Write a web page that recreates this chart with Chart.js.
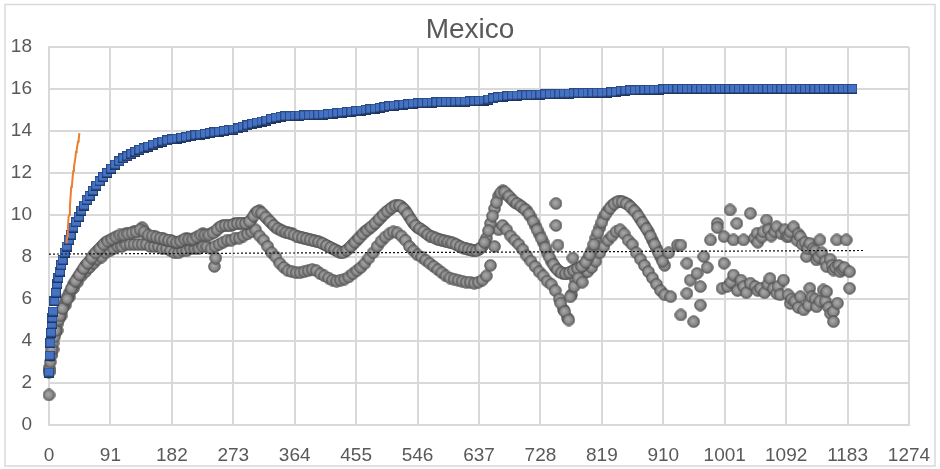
<!DOCTYPE html>
<html>
<head>
<meta charset="utf-8">
<script src="https://cdn.jsdelivr.net/npm/chart.js@4.4.1/dist/chart.umd.min.js"></script>
<style>
html, body { margin: 0; padding: 0; background: #ffffff; }
canvas { display: block; }
</style>
</head>
<body>
<canvas id="chart" width="940" height="469"></canvas>
<script>
// Axis tick labels
const xTickLabels = ['0','91','182','273','364','455','546','637','728','819','910','1001','1092','1183','1274'];
const yTickLabels = ['0','2','4','6','8','10','12','14','16','18'];

// Cumulative series (blue squares)
const cumulativeDays = [
  0,1,2,3,4,5,6,8,10,12,
  14,16,18,20,23,26,29,32,36,40,
  44,48,52,56,60,65,70,75,80,86,
  92,98,104,110,116,122,128,134,140,147,
  154,161,168,175,182,189,196,203,210,217,
  224,231,238,245,252,259,266,273,280,287,
  294,301,308,315,322,329,336,343,350,357,
  364,371,378,385,392,399,406,413,420,427,
  434,441,448,455,462,469,476,483,490,497,
  504,511,518,525,532,539,546,553,560,567,
  574,581,588,595,602,609,616,623,630,637,
  644,651,658,665,672,679,686,693,700,707,
  714,721,728,735,742,749,756,763,770,777,
  784,791,798,805,812,819,826,833,840,847,
  854,861,868,875,882,889,896,903,910,917,
  924,931,938,945,952,959,966,973,980,987,
  994,1001,1008,1015,1022,1029,1036,1043,1050,1057,
  1064,1071,1078,1085,1092,1099,1106,1113,1120,1127,
  1134,1141,1148,1155,1162,1169,1176,1183,1190
];
const cumulativeValues = [
  2.5,3.3,3.9,4.4,4.8,5.1,5.4,5.9,6.3,6.7,
  7.0,7.3,7.6,7.85,8.2,8.5,8.8,9.05,9.4,9.65,
  9.9,10.2,10.45,10.7,10.9,11.15,11.4,11.6,11.8,12.0,
  12.2,12.4,12.55,12.7,12.8,12.9,13.0,13.1,13.17,13.25,
  13.35,13.42,13.5,13.55,13.6,13.63,13.67,13.7,13.75,13.8,
  13.83,13.86,13.9,13.93,13.96,14.0,14.03,14.07,14.12,14.2,
  14.27,14.33,14.4,14.45,14.5,14.57,14.63,14.67,14.7,14.7,
  14.72,14.73,14.74,14.75,14.76,14.77,14.78,14.8,14.82,14.85,
  14.88,14.9,14.92,14.95,14.97,15.0,15.03,15.06,15.1,15.13,
  15.17,15.2,15.22,15.25,15.27,15.3,15.32,15.33,15.34,15.35,
  15.36,15.37,15.38,15.38,15.39,15.4,15.4,15.41,15.42,15.43,
  15.45,15.5,15.55,15.6,15.63,15.66,15.68,15.69,15.7,15.7,
  15.71,15.72,15.73,15.74,15.75,15.76,15.77,15.78,15.78,15.79,
  15.8,15.8,15.81,15.81,15.82,15.82,15.83,15.84,15.85,15.9,
  15.92,15.93,15.94,15.95,15.95,15.96,15.96,15.97,15.98,16.0,
  16.0,16.0,16.0,16.0,16.0,16.0,16.0,16.0,16.0,16.0,
  16.0,16.0,16.0,16.0,16.0,16.0,16.0,16.0,16.0,16.0,
  16.0,16.0,16.0,16.0,16.0,16.0,16.0,16.0,16.0,16.0,
  16.0,16.0,16.0,16.0,16.0,16.0,16.0,16.0,16.0
];

// Daily series (grey circles): weekday branch (upper) and weekend branch (lower)
const dailyDays = [
  0,6,12,18,24,30,36,42,48,54,
  60,66,72,78,84,90,96,102,108,114,
  120,126,132,138,144,150,156,162,168,174,
  180,186,192,198,204,210,216,222,228,234,
  240,246,252,258,264,270,276,282,288,294,
  300,306,312,318,324,330,336,342,348,354,
  360,366,372,378,384,390,396,402,408,414,
  420,426,432,438,444,450,456,462,468,474,
  480,486,492,498,504,510,516,522,528,534,
  540,546,552,558,564,570,576,582,588,594,
  600,606,612,618,624,630,636,642,648,654,
  660,666,672,678,684,690,696,702,708,714,
  720,726,732,738,744,750,756,762,768,774,
  780,786,792,798,804,810,816,822,828,834,
  840,846,852,858,864,870,876,882,888,894,
  900,906,912
];
const dailyUpper = [
  2.7,3.9,4.8,5.4,5.9,6.3,6.7,7.0,7.3,7.6,
  7.8,8.1,8.3,8.5,8.7,8.8,8.9,9.0,9.0,9.1,
  9.1,9.2,9.2,9.4,9.1,9.0,9.0,8.9,8.9,8.8,
  8.8,8.7,8.7,8.8,8.9,8.8,8.9,9.0,9.1,9.0,
  9.1,9.2,9.4,9.5,9.5,9.5,9.6,9.6,9.6,9.6,
  9.8,10.1,10.2,10.0,9.8,9.6,9.4,9.3,9.2,9.15,
  9.1,9.0,8.95,8.9,8.85,8.8,8.75,8.7,8.6,8.5,
  8.4,8.3,8.2,8.25,8.4,8.6,8.8,9.0,9.2,9.35,
  9.5,9.7,9.9,10.1,10.25,10.4,10.45,10.4,10.2,9.9,
  9.6,9.4,9.3,9.15,9.0,8.95,8.85,8.8,8.75,8.7,
  8.65,8.55,8.45,8.4,8.35,8.3,8.35,8.5,8.9,9.6,
  10.3,10.9,11.15,11.0,10.8,10.6,10.5,10.35,10.2,9.9,
  9.5,9.1,8.7,8.2,7.8,7.5,7.3,7.2,7.2,7.3,
  7.4,7.5,7.6,7.9,8.3,8.9,9.4,9.9,10.2,10.45,
  10.6,10.65,10.6,10.5,10.3,10.1,9.8,9.5,9.2,8.8,
  8.4,8.0,7.6
];
// Upper branch on the days in between (3, 9, 15, ...)
const dailyMidDays = [
  3,9,15,21,27,33,39,45,51,57,
  63,69,75,81,87,93,99,105,111,117,
  123,129,135,141,147,153,159,165,171,177,
  183,189,195,201,207,213,219,225,231,237,
  243,249,255,261,267,273,279,285,291,297,
  303,309,315,321,327,333,339,345,351,357,
  363,369,375,381,387,393,399,405,411,417,
  423,429,435,441,447,453,459,465,471,477,
  483,489,495,501,507,513,519,525,531,537,
  543,549,555,561,567,573,579,585,591,597,
  603,609,615,621,627,633,639,645,651,657,
  663,669,675,681,687,693,699,705,711,717,
  723,729,735,741,747,753,759,765,771,777,
  783,789,795,801,807,813,819,825,831,837,
  843,849,855,861,867,873,879,885,891,897,
  903,909
];
const dailyUpperMid = [
  3.35,4.4,5.1,5.65,6.1,6.5,6.85,7.15,7.45,7.7,
  7.95,8.2,8.4,8.6,8.75,8.85,8.95,9.05,9.05,9.1,
  9.15,9.2,9.3,9.2,9.05,9.0,8.95,8.9,8.85,8.8,
  8.75,8.7,8.75,8.85,8.85,8.85,8.95,9.05,9.05,9.05,
  9.15,9.3,9.45,9.5,9.5,9.55,9.6,9.6,9.6,9.7,
  9.95,10.15,10.1,9.9,9.7,9.5,9.35,9.25,9.17,9.12,
  9.05,8.97,8.92,8.87,8.82,8.77,8.72,8.65,8.55,8.45,
  8.35,8.25,8.2,8.32,8.5,8.7,8.9,9.1,9.27,9.42,
  9.6,9.8,10.0,10.17,10.32,10.43,10.45,10.3,10.05,9.75,
  9.5,9.35,9.22,9.07,8.97,8.9,8.82,8.77,8.72,8.67,
  8.6,8.5,8.42,8.37,8.32,8.3,8.42,8.7,9.25,9.95,
  10.6,11.05,11.1,10.9,10.7,10.55,10.42,10.27,10.05,9.7,
  9.3,8.9,8.45,8.0,7.65,7.4,7.25,7.2,7.25,7.35,
  7.45,7.55,7.75,8.1,8.6,9.15,9.65,10.05,10.32,10.52,
  10.63,10.63,10.55,10.4,10.2,9.95,9.65,9.35,9.0,8.6,
  8.2,7.8
];
const dailyLower = [
  2.5,3.6,4.5,5.2,5.7,6.1,6.5,6.8,7.1,7.3,
  7.5,7.7,7.9,8.0,8.2,8.3,8.4,8.5,8.5,8.6,
  8.6,8.6,8.6,8.6,8.6,8.5,8.5,8.5,8.4,8.4,
  8.3,8.2,8.2,8.3,8.3,8.4,8.4,8.4,8.5,8.5,
  8.4,8.5,8.6,8.7,8.8,8.8,8.9,8.9,9.0,9.1,
  9.2,9.3,9.0,8.8,8.5,8.2,8.0,7.7,7.5,7.35,
  7.3,7.25,7.25,7.3,7.35,7.4,7.35,7.2,7.1,7.0,
  6.9,6.85,6.9,6.95,7.05,7.2,7.35,7.5,7.7,7.95,
  8.2,8.5,8.75,8.95,9.1,9.2,9.15,9.0,8.8,8.5,
  8.3,8.1,8.0,7.85,7.7,7.55,7.4,7.25,7.1,7.0,
  6.95,6.9,6.85,6.8,6.8,6.75,6.8,6.9,7.1,7.6,
  8.5,9.3,9.5,9.3,9.0,8.8,8.6,8.35,8.05,7.8,
  7.55,7.3,7.1,6.85,6.7,6.4,6.0,5.5,5.1,6.2,
  6.9,7.1,7.2,7.3,7.5,7.8,8.2,8.5,8.8,9.0,
  9.2,9.3,9.1,8.8,8.6,8.2,7.9,7.6,7.3,7.0,
  6.7,6.4,6.2
];
// Daily values off the two branches: early ramp, isolated days and the scattered tail
const dailyOther = [
  [0,1.43],[1,2.6],[2,3.0],[3,3.3],[4,3.6],[8,4.2],[10,4.5],[14,5.0],[16,5.2],[20,5.55],[27,6.0],
  [245,7.55],[247,7.95],
  [751,10.55],[751,9.5],[754,8.57],[776,7.95],[758,5.8],[764,5.4],[770,5.0],[772,6.1],[778,6.6],[784,7.0],[790,6.8],
  [918,8.2],[921,6.11],[931,8.57],[936,8.57],[936,5.24],[945,7.7],[945,6.27],[950,6.9],[955,4.92],[960,7.22],
  [965,6.59],[965,5.71],[970,8.02],[975,7.5],[980,8.81],[990,9.6],[990,9.4],[997,6.51],[1000,8.97],[1000,7.7],
  [1005,6.6],[1009,10.24],[1010,6.8],[1014,8.81],[1014,7.14],[1019,9.6],[1020,6.4],[1025,6.9],[1029,8.81],
  [1029,6.59],[1033,6.3],[1039,10.08],[1039,6.75],[1045,8.9],[1046,6.6],[1049,9.13],[1050,8.7],[1050,6.4],
  [1054,6.51],[1056,8.95],[1058,9.2],[1060,6.3],[1063,9.76],[1065,6.7],[1066,9.3],[1068,6.98],[1070,9.0],
  [1073,6.5],[1075,9.2],[1078,9.44],[1078,6.27],[1080,6.6],[1083,6.2],[1085,9.1],[1088,6.9],[1090,9.3],
  [1093,8.97],[1095,6.2],[1096,9.0],[1098,9.2],[1098,5.79],[1100,6.0],[1103,9.44],[1105,5.9],[1108,8.8],
  [1110,9.1],[1110,5.6],[1113,8.97],[1113,6.11],[1116,8.6],[1118,5.48],[1120,8.7],[1122,8.02],[1124,8.4],
  [1125,5.7],[1127,8.65],[1127,6.51],[1130,6.1],[1132,8.4],[1135,8.3],[1135,6.0],[1137,7.86],[1137,5.63],
  [1140,8.0],[1142,8.81],[1142,5.9],[1145,8.2],[1147,6.43],[1150,7.8],[1150,5.9],[1152,7.54],[1152,6.35],
  [1155,5.6],[1157,7.9],[1158,5.3],[1160,7.6],[1162,7.38],[1162,5.4],[1162,4.92],[1165,7.5],[1167,8.81],
  [1168,5.8],[1170,7.6],[1172,7.3],[1176,7.4],[1178,7.5],[1181,8.81],[1186,7.3],[1186,6.51]
];

// Early growth line (orange)
const earlyDays = [26,27,28,29,30,31,32,33,34,35,36,37,38,39,40,41,42,43,44,45];
const earlyValues = [8.65,9.0,9.4,9.9,10.0,10.4,10.9,11.35,11.4,11.8,12.1,12.3,12.5,12.7,13.0,13.1,13.3,13.5,13.6,13.9];

// Linear trend of the daily series (dotted)
const trendDays = [0, 1206];
const trendValues = [8.14, 8.31];

const zip = (xs, ys) => xs.map((x, i) => ({ x: x, y: ys[i] }));
const fromPairs = (pairs) => pairs.map(p => ({ x: p[0], y: p[1] }));

// Shaded round marker for the daily series
function makeBall() {
  const c = document.createElement('canvas');
  c.width = 13; c.height = 13;
  const g = c.getContext('2d');
  const grad = g.createRadialGradient(5.6, 5.6, 0.5, 6.5, 6.5, 6.3);
  grad.addColorStop(0, '#a8a8a8');
  grad.addColorStop(0.55, '#8a8a8a');
  grad.addColorStop(1, '#5a5a5a');
  g.fillStyle = grad;
  g.beginPath();
  g.arc(6.5, 6.5, 5.8, 0, Math.PI * 2);
  g.fill();
  g.strokeStyle = 'rgba(80,80,80,0.85)';
  g.lineWidth = 1;
  g.stroke();
  return c;
}

// Square marker for the cumulative series
function makeSquare() {
  const c = document.createElement('canvas');
  c.width = 10; c.height = 10;
  const g = c.getContext('2d');
  g.fillStyle = '#4472C4';
  g.fillRect(0, 0, 10, 10);
  g.strokeStyle = '#2b4a85';
  g.lineWidth = 1;
  g.strokeRect(0.5, 0.5, 9, 9);
  g.fillStyle = '#1f355f';
  g.fillRect(0, 8.5, 10, 1.5);
  return c;
}

const ball = makeBall();
const square = makeSquare();

const frame = {
  id: 'frame',
  beforeDraw(chart) {
    const ctx = chart.ctx;
    ctx.save();
    ctx.fillStyle = '#ffffff';
    ctx.fillRect(0, 0, chart.width, chart.height);
    ctx.strokeStyle = '#d9d9d9';
    ctx.lineWidth = 1.5;
    ctx.strokeRect(5, 4.5, 930, 461.5);
    ctx.restore();
  }
};

const tickFont = { family: "'Liberation Sans', Arial, sans-serif", size: 19 };

new Chart(document.getElementById('chart'), {
  type: 'scatter',
  data: {
    datasets: [
      {
        label: 'Trend',
        data: zip(trendDays, trendValues),
        showLine: true,
        borderColor: '#111111',
        borderWidth: 1.2,
        borderDash: [2, 2],
        pointRadius: 0,
        clip: false
      },
      {
        label: 'Early growth',
        data: zip(earlyDays, earlyValues),
        showLine: true,
        borderColor: '#ED7D31',
        borderWidth: 2,
        pointRadius: 0,
        tension: 0,
        clip: false
      },
      {
        label: 'Cumulative',
        data: zip(cumulativeDays, cumulativeValues),
        pointStyle: square,
        pointRadius: 5,
        clip: false
      },
      {
        label: 'Daily',
        data: zip(dailyDays, dailyLower).concat(zip(dailyDays, dailyUpper), zip(dailyMidDays, dailyUpperMid), fromPairs(dailyOther)),
        pointStyle: ball,
        pointRadius: 6,
        clip: false
      }
    ]
  },
  options: {
    responsive: false,
    animation: false,
    devicePixelRatio: 1,
    layout: { padding: 0 },
    plugins: {
      legend: { display: false },
      tooltip: { enabled: false },
      title: {
        display: true,
        text: 'Mexico',
        color: '#595959',
        font: { family: "'Liberation Sans', Arial, sans-serif", size: 28, weight: 'normal', lineHeight: 1.1 },
        padding: { top: 15, bottom: 1.2 }
      }
    },
    scales: {
      x: {
        type: 'linear',
        min: 0,
        max: 1274,
        afterFit(scale) { scale.height = 44; scale.paddingRight = 31; },
        grid: { color: '#d9d9d9', lineWidth: 2, drawTicks: false },
        border: { color: '#d9d9d9', width: 2 },
        ticks: {
          stepSize: 91,
          autoSkip: false,
          maxRotation: 0,
          padding: 19,
          color: '#595959',
          font: tickFont,
          callback: (v, i) => xTickLabels[i]
        }
      },
      y: {
        min: 0,
        max: 18,
        afterFit(scale) { scale.width = 49; },
        grid: { color: '#d9d9d9', lineWidth: 2, drawTicks: false },
        border: { color: '#d9d9d9', width: 2 },
        ticks: {
          stepSize: 2,
          padding: 17,
          color: '#595959',
          font: tickFont,
          callback: (v, i) => yTickLabels[i]
        }
      }
    }
  },
  plugins: [frame]
});
</script>
</body>
</html>
